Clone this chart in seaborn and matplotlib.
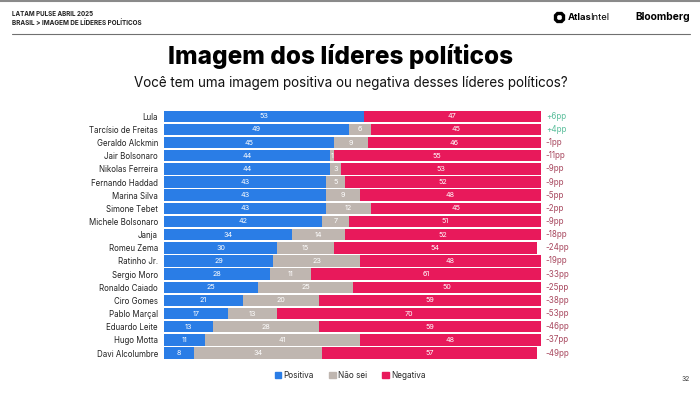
# -*- coding: utf-8 -*-
import numpy as np
import pandas as pd
import matplotlib.pyplot as plt
import seaborn as sns
from matplotlib.patches import Patch
from matplotlib.lines import Line2D

# %% data
names = ["Lula", "Tarcísio de Freitas", "Geraldo Alckmin", "Jair Bolsonaro",
         "Nikolas Ferreira", "Fernando Haddad", "Marina Silva", "Simone Tebet",
         "Michele Bolsonaro", "Janja", "Romeu Zema", "Ratinho Jr.", "Sergio Moro",
         "Ronaldo Caiado", "Ciro Gomes", "Pablo Marçal", "Eduardo Leite",
         "Hugo Motta", "Davi Alcolumbre"]
positiva = [53, 49, 45, 44, 44, 43, 43, 43, 42, 34, 30, 29, 28, 25, 21, 17, 13, 11, 8]
nao_sei = [0, 6, 9, 1, 3, 5, 9, 12, 7, 14, 15, 23, 11, 25, 20, 13, 28, 41, 34]
negativa = [47, 45, 46, 55, 53, 52, 48, 45, 51, 52, 54, 48, 61, 50, 59, 70, 59, 48, 57]
saldo = ["+6pp", "+4pp", "-1pp", "-11pp", "-9pp", "-9pp", "-5pp", "-2pp", "-9pp",
         "-18pp", "-24pp", "-19pp", "-33pp", "-25pp", "-38pp", "-53pp", "-46pp",
         "-37pp", "-49pp"]

c_pos = '#2A7DE6'
c_ns = '#BFB6B0'
c_neg = '#E8195B'

df = pd.DataFrame({'nome': names, 'Positiva': positiva,
                   'Não sei': nao_sei, 'Negativa': negativa})
df['cum_ns'] = df['Positiva'] + df['Não sei']
df['cum_neg'] = df['cum_ns'] + df['Negativa']

# %% plot
sns.set_theme(style='white')
plt.rcParams['font.family'] = ['Inter', 'DejaVu Sans']

fig = plt.figure(figsize=(7, 3.94), dpi=100)
ax = fig.add_axes([0.2343, 0.0873, 0.5386, 0.6343])

# stacked bars: draw cumulative widths, widest first
for col, color in [('cum_neg', c_neg), ('cum_ns', c_ns), ('Positiva', c_pos)]:
    sns.barplot(data=df, x=col, y='nome', order=names, orient='h', color=color,
                saturation=1, width=0.87, linewidth=0, ax=ax)

for i in range(len(names)):
    starts = [0, positiva[i], positiva[i] + nao_sei[i]]
    for s, v in zip(starts, [positiva[i], nao_sei[i], negativa[i]]):
        if v > 0:
            ax.text(s + v / 2, i, str(v), ha='center', va='center',
                    color='white', fontsize=5.2)
    col = '#5BBF9C' if saldo[i].startswith('+') else '#A8485F'
    ax.text(101.3, i, saldo[i], ha='left', va='center', color=col, fontsize=5.8)

ax.set_xlim(0, 100)
ax.set_xlabel('')
ax.set_ylabel('')
ax.set_xticks([])
ax.tick_params(axis='y', length=0, pad=4.3, labelsize=5.7, labelcolor='#222222')
sns.despine(ax=ax, left=True, bottom=True)

# legend
handles = [Patch(color=c_pos, label='Positiva'), Patch(color=c_ns, label='Não sei'),
           Patch(color=c_neg, label='Negativa')]
fig.legend(handles=handles, loc='center', bbox_to_anchor=(0.5, 0.048), ncol=3,
           frameon=False, fontsize=5.9, handlelength=0.8, handleheight=0.8,
           handletextpad=0.25, columnspacing=1.9)

# header / titles
fig.add_artist(Line2D([0, 1], [0.998, 0.998], color='#8a8a8a', lw=1.5))
fig.add_artist(Line2D([12 / 700, 690 / 700], [1 - 34 / 394, 1 - 34 / 394],
                      color='#707070', lw=0.8))
fig.text(12 / 700, 1 - 14 / 394, 'LATAM PULSE ABRIL 2025', fontsize=4.5,
         fontweight='bold', va='center', color='#222222')
fig.text(12 / 700, 1 - 23 / 394, 'BRASIL > IMAGEM DE LÍDERES POLÍTICOS', fontsize=4.6,
         fontweight='bold', va='center', color='#222222')
fig.add_artist(Line2D([559 / 700], [1 - 17 / 394], marker='8', markersize=7,
                      markerfacecolor='none', markeredgecolor='black',
                      markeredgewidth=2.4))
t_atlas = fig.text(568 / 700, 1 - 17 / 394, 'Atlas', fontsize=6.8, fontweight='bold',
                   va='center', color='black')
ax.annotate('Intel', xy=(1, 0.5), xycoords=t_atlas, xytext=(-1.0, 0),
            textcoords='offset points', fontsize=6.8, va='center', ha='left',
            color='black', annotation_clip=False)
fig.text(690 / 700, 1 - 17 / 394, 'Bloomberg', fontsize=7.4, fontweight='bold',
         va='center', ha='right', color='black')

fig.text(341 / 700, 1 - 64 / 394, 'Imagem dos líderes políticos', fontsize=17.5,
         fontweight='heavy', ha='center', va='baseline', color='black')
fig.text(351 / 700, 1 - 87 / 394,
         'Você tem uma imagem positiva ou negativa desses líderes políticos?',
         fontsize=9.7, ha='center', va='baseline', color='#111111')
fig.text(690 / 700, 1 - 379 / 394, '32', fontsize=4.8, ha='right', va='center',
         color='#333333')

plt.savefig('out.png', dpi=100)
